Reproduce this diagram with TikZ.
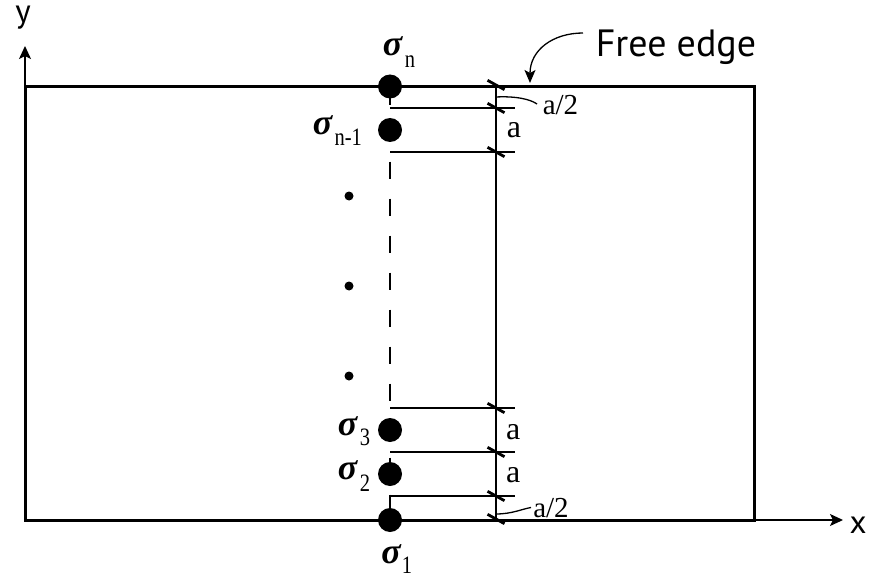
\documentclass[tikz,border=0pt]{standalone}
\usepackage{fontspec}
\setmainfont{Liberation Serif}
\newfontfamily\sansf{PT Sans}
\usetikzlibrary{arrows.meta}
\newcommand{\sig}{{\fontsize{36}{40}\selectfont\bfseries\itshape σ}}
\newcommand{\subf}[1]{\scalebox{0.82}[1]{\fontsize{25}{28}\selectfont #1}}
\begin{document}
\begin{tikzpicture}[x=1pt,y=-1pt,
  frame/.style={line width=3pt},
  thin/.style={line width=1.3pt},
  tickmark/.style={line width=2.8pt},
  ball/.style={circle,fill=black,minimum size=24pt,inner sep=0pt},
  smalldot/.style={circle,fill=black,minimum size=9pt,inner sep=0pt},
  lbl/.style={inner sep=0pt,outer sep=0pt},
  dimlab/.style={inner sep=0pt,font=\fontsize{32}{36}\selectfont},
  halflab/.style={inner sep=0pt,font=\fontsize{29}{32}\selectfont},
  axislab/.style={inner sep=0pt,font=\sansf\fontsize{33}{38}\selectfont},
  tip/.style={-{Stealth[length=13pt,width=12pt,inset=3pt]}}
]
\useasboundingbox (0,0) rectangle (870,583);
% axes
\coordinate (O) at (25,520);
\coordinate (ytip) at (25,46);
\coordinate (xtip) at (843,520);
\draw[thin,tip] (O) -- (ytip);
\draw[thin,tip] (O) -- (xtip);
\node[axislab,anchor=base] (ylab) at (23,23) {y};
\node[axislab,anchor=base] (xlab) at (858,533) {x};
% dashed centre line
\coordinate (dtop) at (390,87.7);
\coordinate (dbot) at (390,520);
\draw[thin,dash pattern=on 17pt off 20pt] (dtop) -- (dbot);
% dimension reference lines
\foreach \n/\yy in {l1/108,l2/152,l3/408,l4/452,l5/496}{
  \coordinate (\n a) at (390,\yy);
  \coordinate (\n b) at (515,\yy);
  \draw[thin] (\n a) -- (\n b);
}
% dimension vertical line
\coordinate (vtop) at (496,86.5);
\coordinate (vbot) at (496,520);
\draw[thin] (vtop) -- (vbot);
% ticks
\foreach \yy in {85,108,152,408,452,496,519}{
  \draw[tickmark] (487.5,\yy-4.7) -- (504.5,\yy+4.7);
}
% plate
\draw[frame] (25,86.5) rectangle (754,520.5);
% stress points
\node[ball] (sn) at (390,86.5) {};
\node[ball] (sn1) at (390,130) {};
\node[ball] (s3) at (390,430) {};
\node[ball] (s2) at (390,474) {};
\node[ball] (s1) at (390,520) {};
\node[smalldot] (d1) at (349,196) {};
\node[smalldot] (d2) at (349,286) {};
\node[smalldot] (d3) at (349,376) {};
% sigma labels
\node[lbl] (tn) at (392.5,46.7) {\sig};
\node[lbl] (tns) at (410,61.7) {\subf{n}};
\node[lbl] (tn1) at (322.5,125.5) {\sig};
\node[lbl] (tn1s) at (348.3,137.5) {\subf{n-1}};
\node[lbl] (t3) at (347.5,426.3) {\sig};
\node[lbl] (t3s) at (365,437.5) {\subf{3}};
\node[lbl] (t2) at (347.5,470.5) {\sig};
\node[lbl] (t2s) at (365,483) {\subf{2}};
\node[lbl] (t1) at (391,554) {\sig};
\node[lbl] (t1s) at (407,565) {\subf{1}};
% dimension labels
\node[dimlab] (da1) at (514,130.5) {a};
\node[dimlab] (da2) at (513.3,432.5) {a};
\node[dimlab] (da3) at (513.3,475.5) {a};
\node[halflab] (h1) at (560.5,105) {a/2};
\node[halflab] (h2) at (551,508.3) {a/2};
\coordinate (h1s) at (496,97);
\coordinate (h1e) at (537,104);
\draw[thin] (h1s) .. controls (515,96) and (530,99) .. (h1e);
\coordinate (h2s) at (496,514);
\coordinate (h2e) at (531,507.5);
\draw[thin] (h2s) .. controls (512,514) and (522,509) .. (h2e);
% free edge
\node[inner sep=0pt,anchor=base,font=\sansf\fontsize{38}{42}\selectfont] (fe) at (676,56.7) {Free edge};
\coordinate (fes) at (583,33);
\coordinate (fee) at (530,83);
\draw[thin,-{Stealth[length=13pt,width=11pt,inset=3pt]}] (fes) .. controls (553,33) and (530,50) .. (fee);
\end{tikzpicture}
\end{document}
